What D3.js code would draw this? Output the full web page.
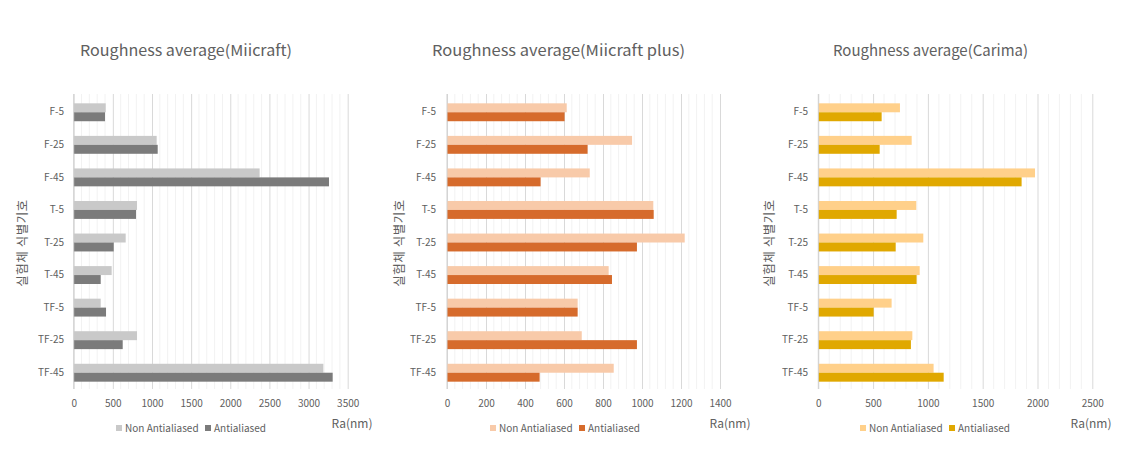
<!DOCTYPE html>
<html><head><meta charset="utf-8">
<script src="https://cdnjs.cloudflare.com/ajax/libs/d3/7.8.5/d3.min.js"></script>
<style>
html,body{margin:0;padding:0;background:#fff;}
text{font-family:"Noto Sans CJK KR","Noto Sans",sans-serif;}
</style></head>
<body><svg id="c" width="1132" height="461"></svg>
<script>
const categories = ["F-5","F-25","F-45","T-5","T-25","T-45","TF-5","TF-25","TF-45"];
const seriesNames = ["Non Antialiased","Antialiased"];
const titles = ["Roughness average(Miicraft)","Roughness average(Miicraft  plus)","Roughness average(Carima)"];
const yAxisTitle = "실험체 식별기호";
const xAxisTitle = "Ra(nm)";

const miicraftNon  = [409,1060,2375,809,664,485,345,809,3189];
const miicraftAnti = [400,1073,3261,796,511,345,413,626,3308];
const plusNon  = [614,949,732,1058,1219,829,670,691,855];
const plusAnti = [603,721,480,1060,974,846,670,974,475];
const carimaNon  = [745,852,1977,894,958,925,669,858,1052];
const carimaAnti = [578,560,1855,715,706,897,505,845,1144];

const ticks1 = [0,500,1000,1500,2000,2500,3000,3500];
const ticks2 = [0,200,400,600,800,1000,1200,1400];
const ticks3 = [0,500,1000,1500,2000,2500];

const panels = [
  {title:titles[0], non:miicraftNon, anti:miicraftAnti, ticks:ticks1, minor:100, x0:73.7, x1:347.7,
   colors:["#c9c9c9","#7b7b7b"], titleX:80, titleW:212, catX:64, yLabX:23, legX:116, leg2X:205, raX:352},
  {title:titles[1], non:plusNon, anti:plusAnti, ticks:ticks2, minor:40, x0:447, x1:720,
   colors:["#f8caa9","#d66b2c"], titleX:432, titleW:253, catX:436, yLabX:400, legX:490, leg2X:579, raX:730},
  {title:titles[2], non:carimaNon, anti:carimaAnti, ticks:ticks3, minor:100, x0:818.3, x1:1092.3,
   colors:["#ffd08a","#e0a800"], titleX:833, titleW:195, catX:808, yLabX:770, legX:860, leg2X:949, raX:1091}
];

const svg = d3.select("#c");
const yTop = 96, yBot = 389;
const txt = "#606060";

panels.forEach(p => {
  const g = svg.append("g");
  const dmax = p.ticks[p.ticks.length-1];
  const x = d3.scaleLinear().domain([0,dmax]).range([p.x0,p.x1]);
  const y = d3.scaleBand().domain(categories).range([yTop,yBot]).paddingInner(0.45).paddingOuter(0.225);
  const ys = d3.scaleBand().domain(seriesNames).range([0,y.bandwidth()]);

  // minor grid
  const minor = d3.range(0, dmax + 1e-9, p.minor).filter(v => !p.ticks.includes(v));
  g.append("g").selectAll("line").data(minor).join("line")
    .attr("x1",d=>x(d)).attr("x2",d=>x(d)).attr("y1",yTop-2).attr("y2",yBot)
    .attr("stroke","#f2f2f2").attr("stroke-width",1);
  // major grid via axis
  const grid = g.append("g").attr("transform",`translate(0,${yBot})`)
    .call(d3.axisBottom(x).tickValues(p.ticks).tickSize(-(yBot-yTop+2)).tickFormat(""));
  grid.select(".domain").remove();
  grid.selectAll("line").attr("stroke","#d9d9d9");

  // bars
  const data = categories.map((c,i)=>({c, vals:[p.non[i], p.anti[i]]}));
  const grp = g.append("g").selectAll("g").data(data).join("g")
    .attr("transform",d=>`translate(0,${y(d.c)})`);
  grp.selectAll("rect").data(d=>d.vals.map((v,k)=>({v,k}))).join("rect")
    .attr("x",x(0)).attr("y",d=>ys(seriesNames[d.k]))
    .attr("width",d=>x(d.v)-x(0)).attr("height",ys.bandwidth())
    .attr("fill",d=>p.colors[d.k]);

  // y axis line
  g.append("line").attr("x1",x(0)).attr("x2",x(0)).attr("y1",yTop-2).attr("y2",yBot)
    .attr("stroke","#d0d0d0");

  // x tick labels
  const xa = g.append("g").attr("transform",`translate(0,${yBot})`)
    .call(d3.axisBottom(x).tickValues(p.ticks).tickSize(0).tickPadding(11).tickFormat(d3.format("d")));
  xa.select(".domain").remove();
  xa.selectAll("text").attr("fill",txt).style("font-size","10px")
    .style("font-family",'"Noto Sans CJK KR","Noto Sans",sans-serif');

  // category labels
  const ya = g.append("g").attr("transform",`translate(${p.catX},0)`)
    .call(d3.axisLeft(y).tickSize(0).tickPadding(0));
  ya.select(".domain").remove();
  ya.selectAll("text").attr("fill",txt).style("font-size","10px")
    .style("font-family",'"Noto Sans CJK KR","Noto Sans",sans-serif');

  // title
  g.append("text").attr("x",p.titleX).attr("y",56).text(p.title)
    .attr("fill",txt).style("font-size","15px")
    .attr("textLength",p.titleW).attr("lengthAdjust","spacingAndGlyphs");

  // y axis title
  g.append("text").attr("transform",`translate(${p.yLabX+4},243) rotate(-90)`)
    .attr("text-anchor","middle").text(yAxisTitle)
    .attr("fill",txt).style("font-size","12.5px").attr("letter-spacing","0.5px");

  // x axis title
  g.append("text").attr("x",p.raX).attr("y",428).attr("text-anchor","middle").text(xAxisTitle)
    .attr("fill",txt).style("font-size","12px");

  // legend
  const lx = [p.legX, p.leg2X];
  seriesNames.forEach((s,k)=>{
    g.append("rect").attr("x",lx[k]).attr("y",425).attr("width",6).attr("height",6).attr("fill",p.colors[k]);
    g.append("text").attr("x",lx[k]+9).attr("y",432).text(s)
      .attr("fill",txt).style("font-size","10px");
  });
});
</script></body></html>
